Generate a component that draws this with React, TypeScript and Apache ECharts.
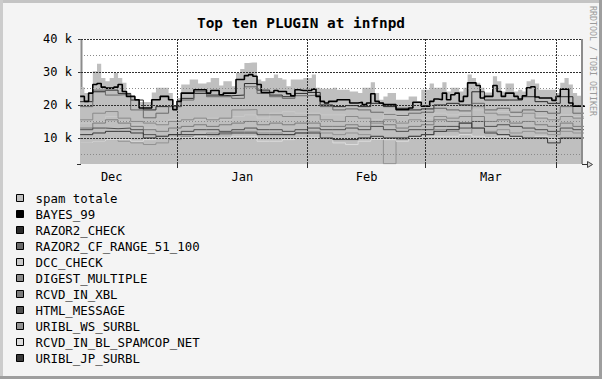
import React, { useEffect, useRef } from "react";
import * as echarts from "echarts";

const chartTitle = "Top ten PLUGIN at infnpd";
const creditText = "RRDTOOL / TOBI OETIKER";
const monthNames = ["Dec", "Jan", "Feb", "Mar"];
// days counted from Dec 1
const monthStarts = [0, 31, 62, 90, 121];
const xMin = 8.2;
const xMax = 127.4;
const yMin = 2100;
const yMax = 40000;
const majorGrid = [10000, 20000, 30000, 40000];
const minorGrid = [5000, 15000, 25000, 35000];

// daily series (k), first day = 8
const dailyStart = 8;
const spamTotale = [
  25.4, 23.6, 23.6, 30.2, 32.5, 28.2, 27.2, 28.2, 29.7, 28.2,
  26.7, 23.6, 22.5, 21.8, 20.9, 20.9, 20.9, 23.8, 25.2, 25.2,
  25.2, 23.6, 19.6, 22.1, 26.2, 26.2, 27.7, 27.7, 26.5, 26.5,
  26.9, 28.2, 28.2, 25.9, 27.2, 27.2, 25.7, 29.7, 30.9, 32.7,
  32.9, 32.9, 27.7, 27.2, 28.2, 28.2, 29.2, 28.2, 27.7, 25.7,
  27.7, 27.7, 27.7, 28.2, 28.2, 29.2, 25.2, 24.9, 24.9, 24.9,
  25.2, 24.6, 24.6, 24.6, 24.1, 24.1, 23.6, 25.2, 25.2, 26.9,
  23.6, 21.6, 22.6, 23.6, 23.6, 21.6, 21.6, 21.6, 22.6, 22.6,
  21.1, 24.6, 24.6, 26.5, 25.2, 25.2, 26.9, 24.1, 25.2, 25.2,
  24.1, 25.2, 29.2, 28.2, 26.7, 25.2, 23.8, 23.8, 28.7, 27.2,
  24.1, 26.5, 26.5, 24.1, 24.6, 24.1, 27.2, 27.7, 26.5, 24.6,
  24.6, 24.6, 24.6, 23.6, 26.7, 28.2, 26.2, 23.6, 22.8, 22.6,
];
const bayes99 = [
  22.6, 21.1, 23.6, 26.2, 26.5, 25.4, 25.1, 25.1, 25.4, 26.2,
  24.1, 22.6, 22.6, 21.6, 19.1, 19.1, 19.1, 21.6, 21.6, 22.6,
  22.6, 21.6, 18.6, 21.1, 23.6, 23.6, 23.6, 24.6, 24.6, 24.6,
  23.6, 24.4, 24.4, 23.1, 23.6, 23.6, 23.6, 27.7, 27.7, 28.9,
  29.2, 28.7, 26.2, 23.8, 23.8, 23.8, 24.4, 24.1, 24.1, 23.4,
  22.8, 24.6, 24.4, 24.4, 24.4, 24.8, 22.6, 21.1, 20.6, 21.1,
  21.1, 21.6, 21.6, 21.6, 20.6, 20.6, 20.8, 20.1, 20.6, 23.4,
  21.1, 20.6, 20.1, 20.1, 20.1, 18.6, 18.6, 18.6, 19.1, 20.8,
  20.8, 19.6, 19.6, 21.1, 21.8, 21.6, 23.6, 21.6, 23.1, 23.6,
  21.1, 22.6, 26.7, 26.7, 25.9, 22.1, 22.6, 22.6, 25.9, 24.1,
  22.6, 23.6, 23.6, 22.6, 21.8, 22.8, 25.2, 25.5, 22.4, 22.1,
  22.1, 22.1, 21.4, 22.6, 24.8, 24.8, 20.6, 19.6, 19.6, 19.6,
];

// 3-day series (k), first bin starts at day 8
const binStart = 8;
const binSize = 3;
const razor2Check = [21, 24, 24.5, 23.5, 21.5, 18.5, 19.5, 19.5, 22, 23.5, 23, 22.8, 23, 26.5, 24.5, 23, 22.5, 23.5, 23.8, 20, 19.5, 19.8, 19.5, 20.5, 19.5, 19, 18.5, 18.8, 20, 20.5, 20, 24, 21.5, 21.5, 21.5, 22.5, 21, 20.5, 22.5, 19.8];
const razor2Cf = [19.5, 24.5, 23, 23.2, 18.5, 16.1, 17.5, 19.6, 21.5, 24, 22.5, 22.5, 22, 25.5, 23.5, 22.5, 22, 22.8, 23, 19.5, 18.5, 18.8, 18.5, 17.8, 17.2, 16.8, 17.5, 17.8, 19, 18.5, 18.2, 20.5, 18.5, 19, 17.8, 18.5, 18, 17.5, 19.5, 17.5];
const dccCheck = [14.5, 15, 16.5, 15, 14, 13, 14.5, 15.5, 15, 15.5, 16, 15.5, 16.5, 17, 16, 17.5, 18, 17.5, 17.5, 17, 17, 16.5, 16, 15.5, 17.5, 16.5, 15.5, 16, 17.5, 17, 17.5, 18.5, 17.5, 18, 17, 17.5, 16.5, 16, 17, 16.5];
const digestMultiple = [15.5, 17.5, 18, 16, 15, 14.5, 14, 15, 15.5, 16, 15.5, 16, 18.5, 18.6, 17, 17, 16.5, 16.5, 17, 15.5, 15, 16.5, 16, 14.5, 15.5, 14.5, 15.5, 15, 16.5, 16, 16.5, 19.5, 17.5, 17, 16.5, 17.5, 16, 15.5, 16.5, 16];
const rcvdInXbl = [13, 14.5, 15.5, 14.5, 13.5, 12.5, 12, 13, 13.5, 14, 13.5, 14, 14.5, 15, 14, 14.5, 14, 14.5, 14.5, 13.5, 13.5, 14, 13.5, 15, 14, 13, 13.5, 14, 15.5, 15, 14.5, 16.5, 15, 15.5, 14.5, 15, 14, 13.5, 14.5, 13.5];
const htmlMessage = [12.5, 13, 12.8, 13, 12.5, 11, 10.5, 11, 12, 12.5, 12.5, 12, 12.5, 13, 12.5, 12.5, 12, 12.5, 13, 12.5, 12.5, 13, 12.5, 13.5, 12.5, 12, 12.5, 12.5, 13.5, 13.5, 13, 15, 13.5, 14, 13.5, 13, 12.5, 12, 13, 12.5];
const uriblWs = [8.5, 9, 9.5, 9, 8.5, 8, 8.5, 9.5, 10.5, 11, 11.5, 11, 12, 12, 11.5, 11.5, 11, 11.5, 12, 11.5, 11, 11.5, 11, 9.5, 2.2, 9.5, 10.5, 11, 12.5, 12, 11.5, 13, 12, 12.5, 11.5, 12, 11.5, 11, 12, 11.5];
const spamcop = [8.5, 9, 9.5, 9.5, 9, 9.5, 10.5, 10, 10, 10.5, 10, 10, 10.5, 10.5, 9, 9, 9.5, 10, 10, 10, 8.5, 8, 9, 9.5, 9.5, 9, 10, 10.5, 10.5, 10.5, 11, 10.5, 10, 10.5, 10, 10, 10.5, 9.5, 10, 10];
const uriblJp = [11, 11.5, 12, 12, 11.5, 10, 10.5, 11, 11, 11, 11, 11.5, 11.5, 11.5, 11, 11, 11, 11.5, 11.5, 10, 9.5, 9.5, 10, 10.5, 10, 10, 10.5, 11, 12, 12.5, 14.5, 13, 11.5, 11, 10.5, 10, 10, 8.5, 10, 10];

const seriesNames = [
  "spam totale", "BAYES_99", "RAZOR2_CHECK", "RAZOR2_CF_RANGE_51_100", "DCC_CHECK",
  "DIGEST_MULTIPLE", "RCVD_IN_XBL", "HTML_MESSAGE", "URIBL_WS_SURBL",
  "RCVD_IN_BL_SPAMCOP_NET", "URIBL_JP_SURBL",
];
const seriesColors = [
  "#bfbfbf", "#000000", "#2a2a2a", "#6a6a6a", "#c8c8c8",
  "#8a8a8a", "#7c7c7c", "#505050", "#929292", "#dcdcdc", "#383838",
];

const FONT = "DejaVu Sans Mono";

function toSteps(start: number, step: number, vals: number[]) {
  const pts = vals.map((v, i) => [start + i * step, v * 1000]);
  pts.push([start + vals.length * step, vals[vals.length - 1] * 1000]);
  return pts;
}

export default function App() {
  const ref = useRef<HTMLDivElement>(null);
  useEffect(() => {
    if (!ref.current) return;
    const chart = echarts.init(ref.current, undefined, { renderer: "svg" });
    const monthMid = monthStarts.slice(0, -1).map((s, i) => (s + monthStarts[i + 1]) / 2);

    const lineData: [string, number[][], number][] = [
      [seriesNames[2], toSteps(binStart, binSize, razor2Check), 3],
      [seriesNames[3], toSteps(binStart, binSize, razor2Cf), 3],
      [seriesNames[4], toSteps(binStart, binSize, dccCheck), 3],
      [seriesNames[5], toSteps(binStart, binSize, digestMultiple), 3],
      [seriesNames[6], toSteps(binStart, binSize, rcvdInXbl), 3],
      [seriesNames[7], toSteps(binStart, binSize, htmlMessage), 3],
      [seriesNames[8], toSteps(binStart, binSize, uriblWs), 3],
      [seriesNames[9], toSteps(binStart, binSize, spamcop), 3],
      [seriesNames[10], toSteps(binStart, binSize, uriblJp), 3],
    ];

    const series: any[] = [
      {
        name: seriesNames[0],
        type: "line",
        step: "end",
        symbol: "none",
        color: seriesColors[0],
        lineStyle: { width: 0 },
        areaStyle: { color: seriesColors[0], opacity: 1, origin: "start" },
        data: toSteps(dailyStart, 1, spamTotale),
        z: 2,
      },
      ...lineData.map(([name, data, z], i) => ({
        name,
        type: "line",
        step: "end",
        symbol: "none",
        color: seriesColors[i + 2],
        lineStyle: { width: 1, color: seriesColors[i + 2] },
        data,
        z,
      })),
      {
        name: seriesNames[1],
        type: "line",
        step: "end",
        symbol: "none",
        color: seriesColors[1],
        lineStyle: { width: 1.6, color: seriesColors[1] },
        data: toSteps(dailyStart, 1, bayes99),
        z: 4,
      },
      {
        name: "grid",
        type: "line",
        data: [],
        silent: true,
        z: 10,
        markLine: {
          silent: true,
          symbol: ["none", "none"],
          label: { show: false },
          data: [
            ...minorGrid.map((v) => ({ yAxis: v, lineStyle: { color: "#8a8a8a", type: [1, 2], width: 1 } })),
            ...majorGrid.map((v) => ({ yAxis: v, lineStyle: { color: "#303030", type: [2, 1], width: 1 } })),
            ...monthStarts.slice(1).map((d) => ({ xAxis: d, lineStyle: { color: "#303030", type: [2, 1], width: 1 } })),
          ],
        },
      },
    ];

    chart.setOption({
      animation: false,
      backgroundColor: "#f4f4f4",
      title: {
        text: chartTitle,
        left: "center",
        top: 11,
        textStyle: { fontFamily: FONT, fontWeight: "bold", fontSize: 14.4, color: "#000" },
      },
      legend: {
        orient: "vertical",
        left: 16,
        top: 190,
        padding: 0,
        icon: "rect",
        itemWidth: 7,
        itemHeight: 7,
        itemGap: 0,
        selectedMode: false,
        data: seriesNames,
        itemStyle: { borderColor: "#000", borderWidth: 1 },
        textStyle: { fontFamily: FONT, fontSize: 12.4, color: "#000", lineHeight: 16, padding: [0, 0, 0, 7] },
      },
      grid: {
        left: 81,
        right: 19,
        top: 39,
        bottom: 215,
        show: true,
        backgroundColor: "#ffffff",
        borderWidth: 0,
      },
      xAxis: {
        type: "value",
        min: xMin,
        max: xMax,
        axisLine: { show: false },
        splitLine: { show: false },
        axisTick: {
          show: true,
          customValues: monthStarts.slice(1),
          length: 4,
          lineStyle: { color: "#303030" },
        },
        axisLabel: {
          customValues: monthMid,
          margin: 7,
          fontFamily: FONT,
          fontSize: 12,
          color: "#000",
          formatter: (v: number) => {
            let best = 0;
            monthMid.forEach((m, i) => {
              if (Math.abs(m - v) < Math.abs(monthMid[best] - v)) best = i;
            });
            return monthNames[best];
          },
        },
      },
      yAxis: {
        type: "value",
        min: yMin,
        max: yMax,
        axisLine: { show: false },
        splitLine: { show: false },
        axisTick: {
          show: true,
          customValues: majorGrid,
          length: 3,
          lineStyle: { color: "#303030" },
        },
        axisLabel: {
          customValues: majorGrid,
          margin: 9,
          fontFamily: FONT,
          fontSize: 12,
          color: "#000",
          formatter: (v: number) => `${Math.round(v / 1000)} k`,
        },
      },
      graphic: [
        { type: "rect", shape: { x: 0, y: 0, width: 602, height: 3 }, style: { fill: "#c4c4c4" }, z: 0 },
        { type: "rect", shape: { x: 0, y: 0, width: 3, height: 379 }, style: { fill: "#cccccc" }, z: 0 },
        { type: "rect", shape: { x: 599, y: 0, width: 3, height: 379 }, style: { fill: "#9e9e9e" }, z: 0 },
        { type: "rect", shape: { x: 0, y: 376, width: 602, height: 3 }, style: { fill: "#9e9e9e" }, z: 0 },
        { type: "line", shape: { x1: 81.5, y1: 39, x2: 81.5, y2: 164 }, style: { stroke: "#8c8c8c", lineWidth: 2 }, z: 1 },
        { type: "line", shape: { x1: 582, y1: 39, x2: 582, y2: 164 }, style: { stroke: "#8c8c8c", lineWidth: 2 }, z: 100 },
        { type: "line", shape: { x1: 77, y1: 164.5, x2: 81, y2: 164.5 }, style: { stroke: "#303030", lineWidth: 1 }, z: 100 },
        { type: "line", shape: { x1: 582, y1: 164.5, x2: 588, y2: 164.5 }, style: { stroke: "#303030", lineWidth: 1 }, z: 100 },
        { type: "polygon", shape: { points: [[587.5, 161.5], [587.5, 167.5], [592.5, 164.5]] }, style: { stroke: "#404040", fill: "#d8d8d8", lineWidth: 1 }, z: 100 },
        {
          type: "text",
          x: 593,
          y: 61,
          rotation: -Math.PI / 2,
          style: {
            text: creditText,
            fontFamily: FONT,
            fontSize: 8.3,
            fill: "#9a9a9a",
            align: "center",
            verticalAlign: "middle",
          },
          z: 100,
        },
      ],
      series,
    });
    return () => chart.dispose();
  }, []);
  return <div ref={ref} style={{ position: "fixed", left: 0, top: 0, width: 602, height: 379 }} />;
}
